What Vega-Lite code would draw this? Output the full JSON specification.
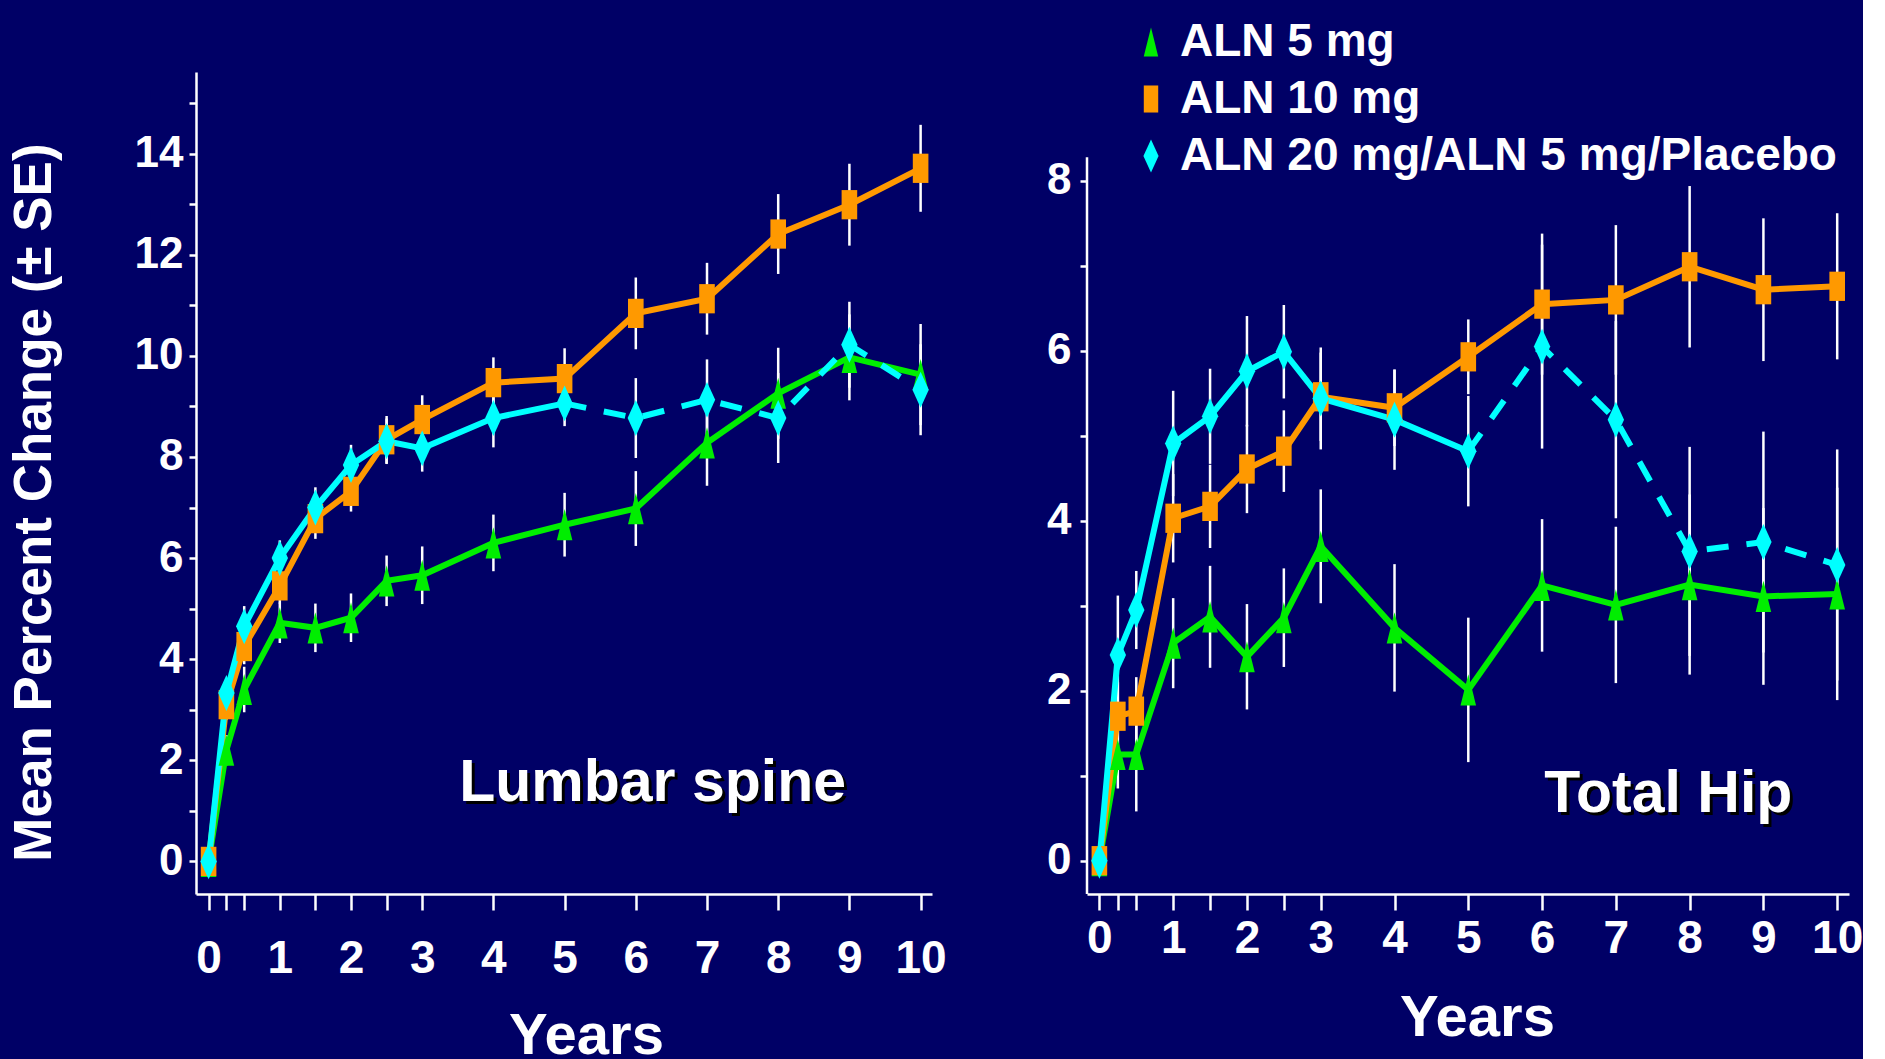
{
  "$schema": "https://vega.github.io/schema/vega-lite/v6.json",
  "background": "#000066",
  "padding": {"left": 7, "top": 19, "right": 0, "bottom": 0},
  "spacing": 99,
  "datasets": {
    "spine": [
      {"g": "ALN 5 mg", "x": 0, "y": 0, "e": 0},
      {"g": "ALN 5 mg", "x": 0.25, "y": 2.2, "e": 0.3},
      {"g": "ALN 5 mg", "x": 0.5, "y": 3.4, "e": 0.45},
      {"g": "ALN 5 mg", "x": 1, "y": 4.72, "e": 0.4},
      {"g": "ALN 5 mg", "x": 1.5, "y": 4.62, "e": 0.48},
      {"g": "ALN 5 mg", "x": 2, "y": 4.82, "e": 0.48},
      {"g": "ALN 5 mg", "x": 2.5, "y": 5.55, "e": 0.5},
      {"g": "ALN 5 mg", "x": 3, "y": 5.66, "e": 0.57},
      {"g": "ALN 5 mg", "x": 4, "y": 6.3, "e": 0.56},
      {"g": "ALN 5 mg", "x": 5, "y": 6.66, "e": 0.63},
      {"g": "ALN 5 mg", "x": 6, "y": 6.98, "e": 0.74},
      {"g": "ALN 5 mg", "x": 7, "y": 8.28, "e": 0.85},
      {"g": "ALN 5 mg", "x": 8, "y": 9.26, "e": 0.9},
      {"g": "ALN 5 mg", "x": 9, "y": 9.97, "e": 0.85},
      {"g": "ALN 5 mg", "x": 10, "y": 9.63, "e": 1.0},
      {"g": "ALN 10 mg", "x": 0, "y": 0, "e": 0},
      {"g": "ALN 10 mg", "x": 0.25, "y": 3.1, "e": 0.3},
      {"g": "ALN 10 mg", "x": 0.5, "y": 4.25, "e": 0.35},
      {"g": "ALN 10 mg", "x": 1, "y": 5.45, "e": 0.35},
      {"g": "ALN 10 mg", "x": 1.5, "y": 6.78, "e": 0.4},
      {"g": "ALN 10 mg", "x": 2, "y": 7.32, "e": 0.4},
      {"g": "ALN 10 mg", "x": 2.5, "y": 8.34, "e": 0.47},
      {"g": "ALN 10 mg", "x": 3, "y": 8.74, "e": 0.48},
      {"g": "ALN 10 mg", "x": 4, "y": 9.47, "e": 0.5},
      {"g": "ALN 10 mg", "x": 5, "y": 9.55, "e": 0.6},
      {"g": "ALN 10 mg", "x": 6, "y": 10.84, "e": 0.71},
      {"g": "ALN 10 mg", "x": 7, "y": 11.13, "e": 0.71},
      {"g": "ALN 10 mg", "x": 8, "y": 12.41, "e": 0.79},
      {"g": "ALN 10 mg", "x": 9, "y": 12.99, "e": 0.81},
      {"g": "ALN 10 mg", "x": 10, "y": 13.71, "e": 0.86},
      {"g": "ALN 20 mg/ALN 5 mg/Placebo", "x": 0, "y": 0, "e": 0},
      {"g": "ALN 20 mg/ALN 5 mg/Placebo", "x": 0.25, "y": 3.33, "e": 0.3},
      {"g": "ALN 20 mg/ALN 5 mg/Placebo", "x": 0.5, "y": 4.65, "e": 0.4},
      {"g": "ALN 20 mg/ALN 5 mg/Placebo", "x": 1, "y": 6.0, "e": 0.35},
      {"g": "ALN 20 mg/ALN 5 mg/Placebo", "x": 1.5, "y": 7.0, "e": 0.4},
      {"g": "ALN 20 mg/ALN 5 mg/Placebo", "x": 2, "y": 7.84, "e": 0.4},
      {"g": "ALN 20 mg/ALN 5 mg/Placebo", "x": 2.5, "y": 8.31, "e": 0.45},
      {"g": "ALN 20 mg/ALN 5 mg/Placebo", "x": 3, "y": 8.17, "e": 0.46},
      {"g": "ALN 20 mg/ALN 5 mg/Placebo", "x": 4, "y": 8.77, "e": 0.58},
      {"g": "ALN 20 mg/ALN 5 mg/Placebo", "x": 5, "y": 9.06, "e": 0.45},
      {"g": "ALN 20 mg/ALN 5 mg/Placebo", "x": 6, "y": 8.77, "e": 0.79},
      {"g": "ALN 20 mg/ALN 5 mg/Placebo", "x": 7, "y": 9.13, "e": 0.8},
      {"g": "ALN 20 mg/ALN 5 mg/Placebo", "x": 8, "y": 8.77, "e": 0.89},
      {"g": "ALN 20 mg/ALN 5 mg/Placebo", "x": 9, "y": 10.22, "e": 0.85},
      {"g": "ALN 20 mg/ALN 5 mg/Placebo", "x": 10, "y": 9.33, "e": 0.9}
    ],
    "hip": [
      {"g": "ALN 5 mg", "x": 0, "y": 0, "e": 0},
      {"g": "ALN 5 mg", "x": 0.25, "y": 1.25, "e": 0.4},
      {"g": "ALN 5 mg", "x": 0.5, "y": 1.25, "e": 0.67},
      {"g": "ALN 5 mg", "x": 1, "y": 2.56, "e": 0.53},
      {"g": "ALN 5 mg", "x": 1.5, "y": 2.87, "e": 0.6},
      {"g": "ALN 5 mg", "x": 2, "y": 2.4, "e": 0.62},
      {"g": "ALN 5 mg", "x": 2.5, "y": 2.86, "e": 0.58},
      {"g": "ALN 5 mg", "x": 3, "y": 3.7, "e": 0.67},
      {"g": "ALN 5 mg", "x": 4, "y": 2.74, "e": 0.75},
      {"g": "ALN 5 mg", "x": 5, "y": 2.01, "e": 0.85},
      {"g": "ALN 5 mg", "x": 6, "y": 3.24, "e": 0.78},
      {"g": "ALN 5 mg", "x": 7, "y": 3.01, "e": 0.92},
      {"g": "ALN 5 mg", "x": 8, "y": 3.25, "e": 1.06},
      {"g": "ALN 5 mg", "x": 9, "y": 3.11, "e": 1.04},
      {"g": "ALN 5 mg", "x": 10, "y": 3.14, "e": 1.25},
      {"g": "ALN 10 mg", "x": 0, "y": 0, "e": 0},
      {"g": "ALN 10 mg", "x": 0.25, "y": 1.7, "e": 0.4},
      {"g": "ALN 10 mg", "x": 0.5, "y": 1.76, "e": 0.4},
      {"g": "ALN 10 mg", "x": 1, "y": 4.03, "e": 0.52},
      {"g": "ALN 10 mg", "x": 1.5, "y": 4.17, "e": 0.49},
      {"g": "ALN 10 mg", "x": 2, "y": 4.61, "e": 0.52},
      {"g": "ALN 10 mg", "x": 2.5, "y": 4.82, "e": 0.48},
      {"g": "ALN 10 mg", "x": 3, "y": 5.46, "e": 0.52},
      {"g": "ALN 10 mg", "x": 4, "y": 5.33, "e": 0.45},
      {"g": "ALN 10 mg", "x": 5, "y": 5.93, "e": 0.44},
      {"g": "ALN 10 mg", "x": 6, "y": 6.55, "e": 0.83},
      {"g": "ALN 10 mg", "x": 7, "y": 6.6, "e": 0.88},
      {"g": "ALN 10 mg", "x": 8, "y": 6.99, "e": 0.95},
      {"g": "ALN 10 mg", "x": 9, "y": 6.72, "e": 0.84},
      {"g": "ALN 10 mg", "x": 10, "y": 6.76, "e": 0.86},
      {"g": "ALN 20 mg/ALN 5 mg/Placebo", "x": 0, "y": 0, "e": 0},
      {"g": "ALN 20 mg/ALN 5 mg/Placebo", "x": 0.25, "y": 2.42, "e": 0.7},
      {"g": "ALN 20 mg/ALN 5 mg/Placebo", "x": 0.5, "y": 2.95, "e": 0.46},
      {"g": "ALN 20 mg/ALN 5 mg/Placebo", "x": 1, "y": 4.91, "e": 0.62},
      {"g": "ALN 20 mg/ALN 5 mg/Placebo", "x": 1.5, "y": 5.23, "e": 0.56},
      {"g": "ALN 20 mg/ALN 5 mg/Placebo", "x": 2, "y": 5.76, "e": 0.65},
      {"g": "ALN 20 mg/ALN 5 mg/Placebo", "x": 2.5, "y": 5.99, "e": 0.55},
      {"g": "ALN 20 mg/ALN 5 mg/Placebo", "x": 3, "y": 5.44, "e": 0.6},
      {"g": "ALN 20 mg/ALN 5 mg/Placebo", "x": 4, "y": 5.19, "e": 0.59},
      {"g": "ALN 20 mg/ALN 5 mg/Placebo", "x": 5, "y": 4.82, "e": 0.65},
      {"g": "ALN 20 mg/ALN 5 mg/Placebo", "x": 6, "y": 6.05, "e": 1.2},
      {"g": "ALN 20 mg/ALN 5 mg/Placebo", "x": 7, "y": 5.19, "e": 1.16},
      {"g": "ALN 20 mg/ALN 5 mg/Placebo", "x": 8, "y": 3.64, "e": 1.23},
      {"g": "ALN 20 mg/ALN 5 mg/Placebo", "x": 9, "y": 3.75, "e": 1.3},
      {"g": "ALN 20 mg/ALN 5 mg/Placebo", "x": 10, "y": 3.48, "e": 1.36}
    ],
    "labels": [
      {"panel": "spine", "label": "Lumbar spine"},
      {"panel": "hip", "label": "Total Hip"}
    ]
  },
  "hconcat": [
    {
      "width": 736,
      "height": 822,
      "layer": [
        {
          "data": {"name": "spine"},
          "mark": {"type": "errorbar", "color": "white", "thickness": 2.5, "ticks": false},
          "encoding": {
            "x": {
              "field": "x", "type": "quantitative",
              "scale": {"domain": [-0.177, 10.16], "nice": false, "zero": false},
              "axis": {
                "values": [0, 0.25, 0.5, 1, 1.5, 2, 2.5, 3, 4, 5, 6, 7, 8, 9, 10],
                "labelExpr": "datum.value % 1 == 0 ? '' + datum.value : ''",
                "tickSize": 16, "labelPadding": 26, "labelFontSize": 46,
                "title": "Years", "titleFontSize": 58, "titleX": 390, "titleY": 113,
                "titleBaseline": "top", "titleAlign": "center"
              }
            },
            "y": {
              "field": "y", "type": "quantitative",
              "scale": {"domain": [-0.645, 15.615], "nice": false, "zero": false},
              "axis": {
                "values": [0, 1, 2, 3, 4, 5, 6, 7, 8, 9, 10, 11, 12, 13, 14, 15],
                "labelExpr": "datum.value % 2 == 0 ? '' + datum.value : ''",
                "tickSize": 7, "labelPadding": 6, "labelFontSize": 44,
                "title": "Mean Percent Change (± SE)", "titleFontSize": 53,
                "titleX": -135, "titleY": 430, "titleAngle": 270,
                "titleBaseline": "bottom", "titleAlign": "center"
              }
            },
            "yError": {"field": "e"}
          }
        },
        {
          "data": {"name": "spine"},
          "transform": [{"filter": "datum.g != 'ALN 20 mg/ALN 5 mg/Placebo' || datum.x <= 5"}],
          "mark": {"type": "line", "strokeWidth": 6},
          "encoding": {
            "x": {"field": "x", "type": "quantitative", "scale": {"domain": [-0.177, 10.16], "nice": false, "zero": false}},
            "y": {"field": "y", "type": "quantitative", "scale": {"domain": [-0.645, 15.615], "nice": false, "zero": false}},
            "stroke": {"field": "g", "type": "nominal", "legend": null,
              "scale": {"domain": ["ALN 20 mg/ALN 5 mg/Placebo", "ALN 10 mg", "ALN 5 mg"], "range": ["#00ffff", "#ff9900", "#00ee00"]}}
          }
        },
        {
          "data": {"name": "spine"},
          "transform": [{"filter": "datum.g == 'ALN 20 mg/ALN 5 mg/Placebo' && datum.x >= 5"}],
          "mark": {"type": "line", "strokeWidth": 6, "strokeDash": [22, 18]},
          "encoding": {
            "x": {"field": "x", "type": "quantitative", "scale": {"domain": [-0.177, 10.16], "nice": false, "zero": false}},
            "y": {"field": "y", "type": "quantitative", "scale": {"domain": [-0.645, 15.615], "nice": false, "zero": false}},
            "stroke": {"field": "g", "type": "nominal", "legend": null,
              "scale": {"domain": ["ALN 20 mg/ALN 5 mg/Placebo", "ALN 10 mg", "ALN 5 mg"], "range": ["#00ffff", "#ff9900", "#00ee00"]}}
          }
        },
        {
          "data": {"name": "spine"},
          "mark": {"type": "point", "filled": true, "opacity": 1, "size": 1521, "strokeWidth": 0},
          "encoding": {
            "x": {"field": "x", "type": "quantitative", "scale": {"domain": [-0.177, 10.16], "nice": false, "zero": false}},
            "y": {"field": "y", "type": "quantitative", "scale": {"domain": [-0.645, 15.615], "nice": false, "zero": false}},
            "color": {"field": "g", "type": "nominal",
              "scale": {"domain": ["ALN 5 mg", "ALN 10 mg", "ALN 20 mg/ALN 5 mg/Placebo"], "range": ["#00ee00", "#ff9900", "#00ffff"]},
              "legend": {"orient": "none", "legendX": 932, "legendY": -53, "title": null}},
            "shape": {"field": "g", "type": "nominal",
              "scale": {"domain": ["ALN 5 mg", "ALN 10 mg", "ALN 20 mg/ALN 5 mg/Placebo"], "range": ["M0,-0.8L0.4,0.8L-0.4,0.8Z", "M-0.4,-0.75L0.4,-0.75L0.4,0.75L-0.4,0.75Z", "M0,-0.92L0.42,0L0,0.92L-0.42,0Z"]},
              "legend": {"orient": "none", "legendX": 932, "legendY": -53, "title": null}}
          }
        },
        {
          "data": {"name": "labels"},
          "transform": [{"filter": "datum.panel == 'spine'"}],
          "mark": {"type": "text", "color": "black", "fontSize": 59, "fontWeight": "bold", "align": "center", "baseline": "alphabetic", "dx": 3, "dy": 3},
          "encoding": {"x": {"datum": 6.236, "type": "quantitative"}, "y": {"datum": 1.186, "type": "quantitative"}, "text": {"field": "label", "type": "nominal"}}
        },
        {
          "data": {"name": "labels"},
          "transform": [{"filter": "datum.panel == 'spine'"}],
          "mark": {"type": "text", "color": "white", "fontSize": 59, "fontWeight": "bold", "align": "center", "baseline": "alphabetic"},
          "encoding": {"x": {"datum": 6.236, "type": "quantitative"}, "y": {"datum": 1.186, "type": "quantitative"}, "text": {"field": "label", "type": "nominal"}}
        }
      ]
    },
    {
      "width": 762,
      "height": 822,
      "layer": [
        {
          "data": {"values": [{"axis": "y"}]},
          "mark": {"type": "rule", "color": "white", "strokeWidth": 2.5},
          "encoding": {"x": {"datum": -0.168, "type": "quantitative"}, "y": {"datum": -0.392, "type": "quantitative"}, "y2": {"datum": 8.28}}
        },
        {
          "data": {"name": "hip"},
          "mark": {"type": "errorbar", "color": "white", "thickness": 2.5, "ticks": false},
          "encoding": {
            "x": {
              "field": "x", "type": "quantitative",
              "scale": {"domain": [-0.168, 10.16], "nice": false, "zero": false},
              "axis": {
                "values": [0, 0.25, 0.5, 1, 1.5, 2, 2.5, 3, 4, 5, 6, 7, 8, 9, 10],
                "labelExpr": "datum.value % 1 == 0 ? '' + datum.value : ''",
                "tickSize": 16, "labelPadding": 6, "labelFontSize": 46,
                "title": "Years", "titleFontSize": 58, "titleX": 390, "titleY": 95,
                "titleBaseline": "top", "titleAlign": "center"
              }
            },
            "y": {
              "field": "y", "type": "quantitative",
              "scale": {"domain": [-0.392, 9.282], "nice": false, "zero": false},
              "axis": {
                "values": [0, 1, 2, 3, 4, 5, 6, 7, 8],
                "labelExpr": "datum.value % 2 == 0 ? '' + datum.value : ''",
                "tickSize": 7, "labelPadding": 9, "labelFontSize": 44,
                "title": null, "domain": false
              }
            },
            "yError": {"field": "e"}
          }
        },
        {
          "data": {"name": "hip"},
          "transform": [{"filter": "datum.g != 'ALN 20 mg/ALN 5 mg/Placebo' || datum.x <= 5"}],
          "mark": {"type": "line", "strokeWidth": 6},
          "encoding": {
            "x": {"field": "x", "type": "quantitative", "scale": {"domain": [-0.168, 10.16], "nice": false, "zero": false}},
            "y": {"field": "y", "type": "quantitative", "scale": {"domain": [-0.392, 9.282], "nice": false, "zero": false}},
            "stroke": {"field": "g", "type": "nominal", "legend": null,
              "scale": {"domain": ["ALN 20 mg/ALN 5 mg/Placebo", "ALN 10 mg", "ALN 5 mg"], "range": ["#00ffff", "#ff9900", "#00ee00"]}}
          }
        },
        {
          "data": {"name": "hip"},
          "transform": [{"filter": "datum.g == 'ALN 20 mg/ALN 5 mg/Placebo' && datum.x >= 5"}],
          "mark": {"type": "line", "strokeWidth": 6, "strokeDash": [22, 18]},
          "encoding": {
            "x": {"field": "x", "type": "quantitative", "scale": {"domain": [-0.168, 10.16], "nice": false, "zero": false}},
            "y": {"field": "y", "type": "quantitative", "scale": {"domain": [-0.392, 9.282], "nice": false, "zero": false}},
            "stroke": {"field": "g", "type": "nominal", "legend": null,
              "scale": {"domain": ["ALN 20 mg/ALN 5 mg/Placebo", "ALN 10 mg", "ALN 5 mg"], "range": ["#00ffff", "#ff9900", "#00ee00"]}}
          }
        },
        {
          "data": {"name": "hip"},
          "mark": {"type": "point", "filled": true, "opacity": 1, "size": 1521, "strokeWidth": 0},
          "encoding": {
            "x": {"field": "x", "type": "quantitative", "scale": {"domain": [-0.168, 10.16], "nice": false, "zero": false}},
            "y": {"field": "y", "type": "quantitative", "scale": {"domain": [-0.392, 9.282], "nice": false, "zero": false}},
            "color": {"field": "g", "type": "nominal",
              "scale": {"domain": ["ALN 5 mg", "ALN 10 mg", "ALN 20 mg/ALN 5 mg/Placebo"], "range": ["#00ee00", "#ff9900", "#00ffff"]},
              "legend": {"orient": "none", "legendX": 932, "legendY": -53, "title": null}},
            "shape": {"field": "g", "type": "nominal",
              "scale": {"domain": ["ALN 5 mg", "ALN 10 mg", "ALN 20 mg/ALN 5 mg/Placebo"], "range": ["M0,-0.8L0.4,0.8L-0.4,0.8Z", "M-0.4,-0.75L0.4,-0.75L0.4,0.75L-0.4,0.75Z", "M0,-0.92L0.42,0L0,0.92L-0.42,0Z"]},
              "legend": {"orient": "none", "legendX": 932, "legendY": -53, "title": null}}
          }
        },
        {
          "data": {"name": "labels"},
          "transform": [{"filter": "datum.panel == 'hip'"}],
          "mark": {"type": "text", "color": "black", "fontSize": 59, "fontWeight": "bold", "align": "center", "baseline": "alphabetic", "dx": 3, "dy": 3},
          "encoding": {"x": {"datum": 7.711, "type": "quantitative"}, "y": {"datum": 0.568, "type": "quantitative"}, "text": {"field": "label", "type": "nominal"}}
        },
        {
          "data": {"name": "labels"},
          "transform": [{"filter": "datum.panel == 'hip'"}],
          "mark": {"type": "text", "color": "white", "fontSize": 59, "fontWeight": "bold", "align": "center", "baseline": "alphabetic"},
          "encoding": {"x": {"datum": 7.711, "type": "quantitative"}, "y": {"datum": 0.568, "type": "quantitative"}, "text": {"field": "label", "type": "nominal"}}
        }
      ]
    }
  ],
  "config": {
    "view": {"stroke": null},
    "font": "Liberation Sans",
    "axis": {
      "labelFont": "Liberation Sans", "titleFont": "Liberation Sans",
      "labelFontWeight": "bold", "titleFontWeight": "bold",
      "labelColor": "white", "titleColor": "white",
      "domainColor": "white", "tickColor": "white",
      "domainWidth": 2.5, "tickWidth": 2.5, "grid": false,
      "labelFlush": false, "labelOverlap": false
    },
    "legend": {
      "labelFont": "Liberation Sans", "labelFontSize": 46, "labelFontWeight": "bold",
      "labelColor": "white", "symbolSize": 1300, "symbolStrokeWidth": 0,
      "labelOffset": 6, "rowPadding": 11, "labelLimit": 1000, "padding": 0
    }
  }
}
